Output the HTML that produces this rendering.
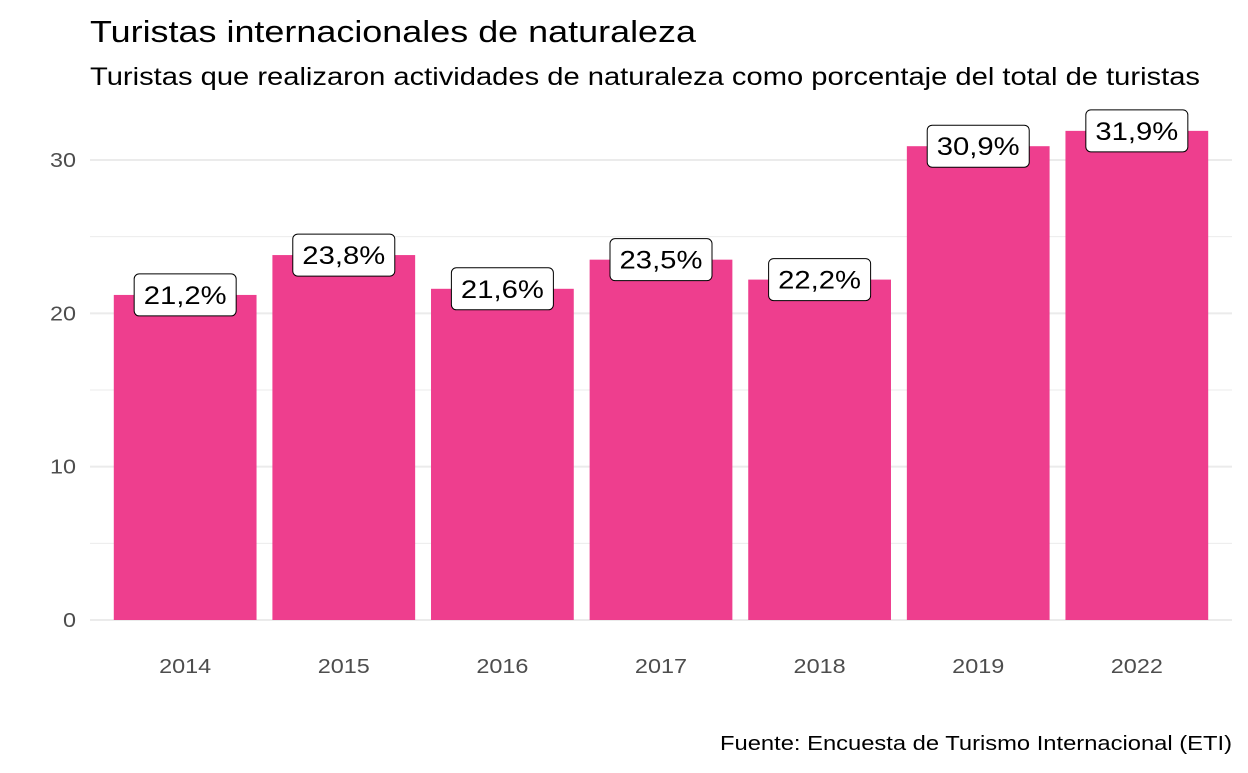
<!DOCTYPE html>
<html><head><meta charset="utf-8"><style>
body{margin:0;background:#fff;font-family:"Liberation Sans",sans-serif;}
svg text{font-family:"Liberation Sans",sans-serif;}
</style></head><body>
<svg id="chart" width="1248" height="768" xmlns="http://www.w3.org/2000/svg">
<text x="90" y="42" font-size="31" fill="#000" textLength="606" lengthAdjust="spacingAndGlyphs">Turistas internacionales de naturaleza</text>
<text x="90" y="85" font-size="25" fill="#000" textLength="1110" lengthAdjust="spacingAndGlyphs">Turistas que realizaron actividades de naturaleza como porcentaje del total de turistas</text>
<text x="1232" y="750" font-size="20" text-anchor="end" fill="#000" textLength="512" lengthAdjust="spacingAndGlyphs">Fuente: Encuesta de Turismo Internacional (ETI)</text>
<g id="grid"></g><g id="bars"></g><g id="labels"></g><g id="axes"></g>
</svg>
<script>
const categories=["2014","2015","2016","2017","2018","2019","2022"];
const values=[21.2,23.8,21.6,23.5,22.2,30.9,31.9];
const valueLabels=["21,2%","23,8%","21,6%","23,5%","22,2%","30,9%","31,9%"];
const yTicks=[0,10,20,30];
const yMinor=[5,15,25];
const NS="http://www.w3.org/2000/svg";
const x0=90,x1=1232,y0=620,y30=160;
const y=v=>y0-(y0-y30)*v/30;
const band=(x1-x0)/(categories.length+0.2);
const xc=i=>x0+band*(0.6+i);
const bw=band*0.9;
function mk(t,a,p){const e=document.createElementNS(NS,t);for(const k in a)e.setAttribute(k,a[k]);p.appendChild(e);return e;}
const g=document.getElementById('grid'),b=document.getElementById('bars'),l=document.getElementById('labels'),ax=document.getElementById('axes');
yMinor.forEach(v=>{const e=mk('line',{x1:x0,x2:x1,y1:y(v),y2:y(v),stroke:'#ebebeb','stroke-width':1},g);

});
yTicks.forEach(v=>{const e=mk('line',{x1:x0,x2:x1,y1:y(v),y2:y(v),stroke:'#ebebeb','stroke-width':2},g);


const t=mk('text',{x:76,y:y(v)+7,'font-size':20,fill:'#4d4d4d','text-anchor':'end'},ax);t.textContent=v;

});
categories.forEach((c,i)=>{
const r=mk('rect',{x:xc(i)-bw/2,y:y(values[i]),width:bw,height:y0-y(values[i]),fill:'#EE3E8E'},b);


const t=mk('text',{x:xc(i),y:673,'font-size':20,fill:'#4d4d4d','text-anchor':'middle'},ax);t.textContent=c;


const cy=y(values[i]);
const bx=mk('rect',{x:xc(i)-51,y:cy-21,width:102,height:42,rx:5,fill:'#fff',stroke:'#000','stroke-width':1},l);


const lt=mk('text',{x:xc(i),y:cy+9,'font-size':25,fill:'#000','text-anchor':'middle'},l);lt.textContent=valueLabels[i];


});
document.querySelectorAll('#axes text, #labels text').forEach(t=>{
const w=t.getComputedTextLength();
t.setAttribute('textLength',(w*1.17).toFixed(1));
t.setAttribute('lengthAdjust','spacingAndGlyphs');
});
</script>
</body></html>
